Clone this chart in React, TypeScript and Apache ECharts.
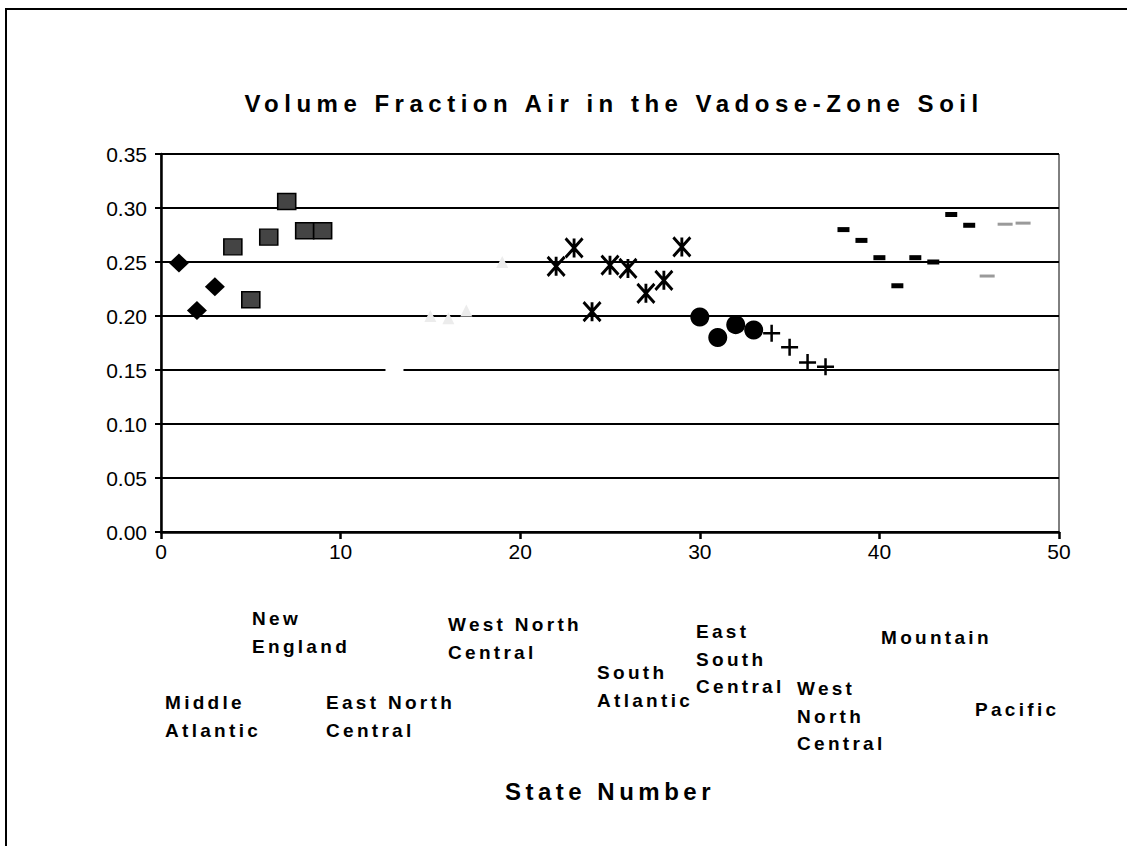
import React, { useEffect, useRef } from "react";
import * as echarts from "echarts";

// ---- data (state number, volume fraction air) ----
const middleAtlanticX = [1, 2, 3];
const middleAtlanticY = [0.249, 0.205, 0.227];
const newEnglandX = [4, 5, 6, 7, 8, 9];
const newEnglandY = [0.264, 0.215, 0.273, 0.306, 0.279, 0.279];
const eastNorthCentralX = [13];
const eastNorthCentralY = [0.15];
const westNorthCentralX = [15, 16, 17, 19];
const westNorthCentralY = [0.2, 0.198, 0.205, 0.25];
const southAtlanticX = [22, 23, 24, 25, 26, 27, 28, 29];
const southAtlanticY = [0.246, 0.263, 0.204, 0.247, 0.244, 0.221, 0.233, 0.264];
const eastSouthCentralX = [30, 31, 32, 33];
const eastSouthCentralY = [0.199, 0.18, 0.192, 0.187];
const westSouthCentralX = [34, 35, 36, 37];
const westSouthCentralY = [0.184, 0.171, 0.157, 0.153];
const mountainX = [38, 39, 40, 41, 42, 43, 44, 45];
const mountainY = [0.28, 0.27, 0.254, 0.228, 0.254, 0.25, 0.294, 0.284];
const pacificX = [46, 47, 48];
const pacificY = [0.237, 0.285, 0.286];

const xTicks = [0, 10, 20, 30, 40, 50];
const yTicks = [0, 0.05, 0.1, 0.15, 0.2, 0.25, 0.3, 0.35];

const titleText = "Volume Fraction Air in the Vadose-Zone Soil";
const xAxisTitle = "State Number";
const regionLabels = [
  "New\nEngland",
  "West North\nCentral",
  "Middle\nAtlantic",
  "East North\nCentral",
  "South\nAtlantic",
  "East\nSouth\nCentral",
  "West\nNorth\nCentral",
  "Mountain",
  "Pacific",
];

// layout (positions of the region annotations, px)
const regionPos: [number, number][] = [
  [252, 605],
  [448, 611],
  [165, 689],
  [326, 689],
  [597, 659],
  [696, 618],
  [797, 675],
  [881, 624],
  [975, 696],
];

const FONT = "'Liberation Sans', Arial, sans-serif";

const zip = (xs: number[], ys: number[]) => xs.map((x, i) => [x, ys[i]]);

export default function App() {
  const ref = useRef<HTMLDivElement>(null);

  useEffect(() => {
    if (!ref.current) return;
    const chart = echarts.init(ref.current, undefined, { renderer: "svg" });

    const graphics: any[] = [
      {
        type: "rect",
        shape: { x: 6, y: 9, width: 1150, height: 870 },
        style: { fill: "none", stroke: "#000", lineWidth: 2 },
        silent: true,
      },
      {
        type: "text",
        x: 614,
        y: 103,
        style: {
          text: titleText,
          font: `bold 24px ${FONT}`,
          fill: "#000",
          textAlign: "center",
          textVerticalAlign: "middle",
        },
      },
    ];
    regionLabels.forEach((t, i) => {
      graphics.push({
        type: "text",
        x: regionPos[i][0],
        y: regionPos[i][1],
        style: {
          text: t,
          font: `bold 19px ${FONT}`,
          fill: "#000",
          textAlign: "left",
          textVerticalAlign: "top",
          lineHeight: 27.5,
        },
      });
    });

    const base = { type: "scatter", z: 3 };

    chart.setOption({
      animation: false,
      backgroundColor: "#fff",
      grid: {
        left: 161,
        top: 154,
        width: 898,
        height: 378,
        show: true,
        borderColor: "#000",
        borderWidth: 1,
        backgroundColor: "transparent",
      },
      xAxis: {
        type: "value",
        min: xTicks[0],
        max: xTicks[xTicks.length - 1],
        interval: 10,
        name: xAxisTitle,
        nameLocation: "middle",
        nameGap: 247,
        nameTextStyle: { fontFamily: FONT, fontSize: 24, fontWeight: "bold", color: "#000" },
        axisLine: { lineStyle: { color: "#000", width: 2.5 } },
        axisTick: { show: true, inside: false, length: 7, lineStyle: { color: "#000", width: 2.5 } },
        axisLabel: { color: "#000", fontSize: 21, fontFamily: FONT, margin: 9 },
        splitLine: { show: false },
      },
      yAxis: {
        type: "value",
        min: yTicks[0],
        max: yTicks[yTicks.length - 1],
        interval: 0.05,
        axisLine: { show: true, lineStyle: { color: "#000", width: 2.5 } },
        axisTick: { show: true, inside: false, length: 6, lineStyle: { color: "#000", width: 2 } },
        axisLabel: {
          color: "#000",
          fontSize: 21,
          fontFamily: FONT,
          margin: 14,
          formatter: (v: number) => v.toFixed(2),
        },
        splitLine: { show: true, lineStyle: { color: "#000", width: 2 } },
      },
      series: [
        {
          ...base,
          name: "Middle Atlantic",
          data: zip(middleAtlanticX, middleAtlanticY),
          symbol: "diamond",
          symbolSize: [20, 19],
          itemStyle: { color: "#000", opacity: 1 },
        },
        {
          ...base,
          name: "New England",
          data: zip(newEnglandX, newEnglandY),
          symbol: "rect",
          symbolSize: [18, 16],
          itemStyle: { color: "#444", borderColor: "#000", borderWidth: 1.5, opacity: 1 },
        },
        {
          ...base,
          name: "East North Central",
          data: zip(eastNorthCentralX, eastNorthCentralY),
          symbol: "rect",
          symbolSize: [18, 6],
          itemStyle: { color: "#fff", opacity: 1 },
        },
        {
          ...base,
          name: "West North Central",
          data: zip(westNorthCentralX, westNorthCentralY),
          symbol: "triangle",
          symbolSize: 12,
          itemStyle: { color: "#ececec", opacity: 1 },
        },
        {
          ...base,
          name: "South Atlantic",
          data: zip(southAtlanticX, southAtlanticY),
          symbol: "path://M0,0L16,18M16,0L0,18M8,0L8,18",
          symbolSize: [17, 19],
          itemStyle: { color: "none", borderColor: "#000", borderWidth: 3, opacity: 1 },
        },
        {
          ...base,
          name: "East South Central",
          data: zip(eastSouthCentralX, eastSouthCentralY),
          symbol: "circle",
          symbolSize: 19,
          itemStyle: { color: "#000", opacity: 1 },
        },
        {
          ...base,
          name: "West South Central",
          data: zip(westSouthCentralX, westSouthCentralY),
          symbol: "path://M8,0L8,16M0,8L16,8",
          symbolSize: [17, 17],
          itemStyle: { color: "none", borderColor: "#000", borderWidth: 2.5, opacity: 1 },
        },
        {
          ...base,
          name: "Mountain",
          data: zip(mountainX, mountainY),
          symbol: "rect",
          symbolSize: [12, 5],
          itemStyle: { color: "#000", opacity: 1 },
        },
        {
          ...base,
          name: "Pacific",
          data: zip(pacificX, pacificY),
          symbol: "rect",
          symbolSize: [15, 3],
          itemStyle: { color: "#9a9a9a", opacity: 1 },
        },
      ],
      graphic: graphics,
    });

    // letter-spaced bold annotations, as in the original
    const spacing: Record<string, number> = {};
    spacing[titleText] = 5.5;
    spacing[xAxisTitle] = 4.5;
    regionLabels.forEach((t) => t.split("\n").forEach((l) => (spacing[l] = 3.3)));
    const applySpacing = () => {
      ref.current?.querySelectorAll("text").forEach((el) => {
        const s = (el.textContent || "").trim();
        if (spacing[s] !== undefined) el.setAttribute("letter-spacing", spacing[s] + "px");
      });
    };
    applySpacing();
    chart.on("finished", applySpacing);

    return () => chart.dispose();
  }, []);

  return (
    <div
      ref={ref}
      style={{ position: "absolute", left: 0, top: 0, width: 1127, height: 846, background: "#fff" }}
    />
  );
}
